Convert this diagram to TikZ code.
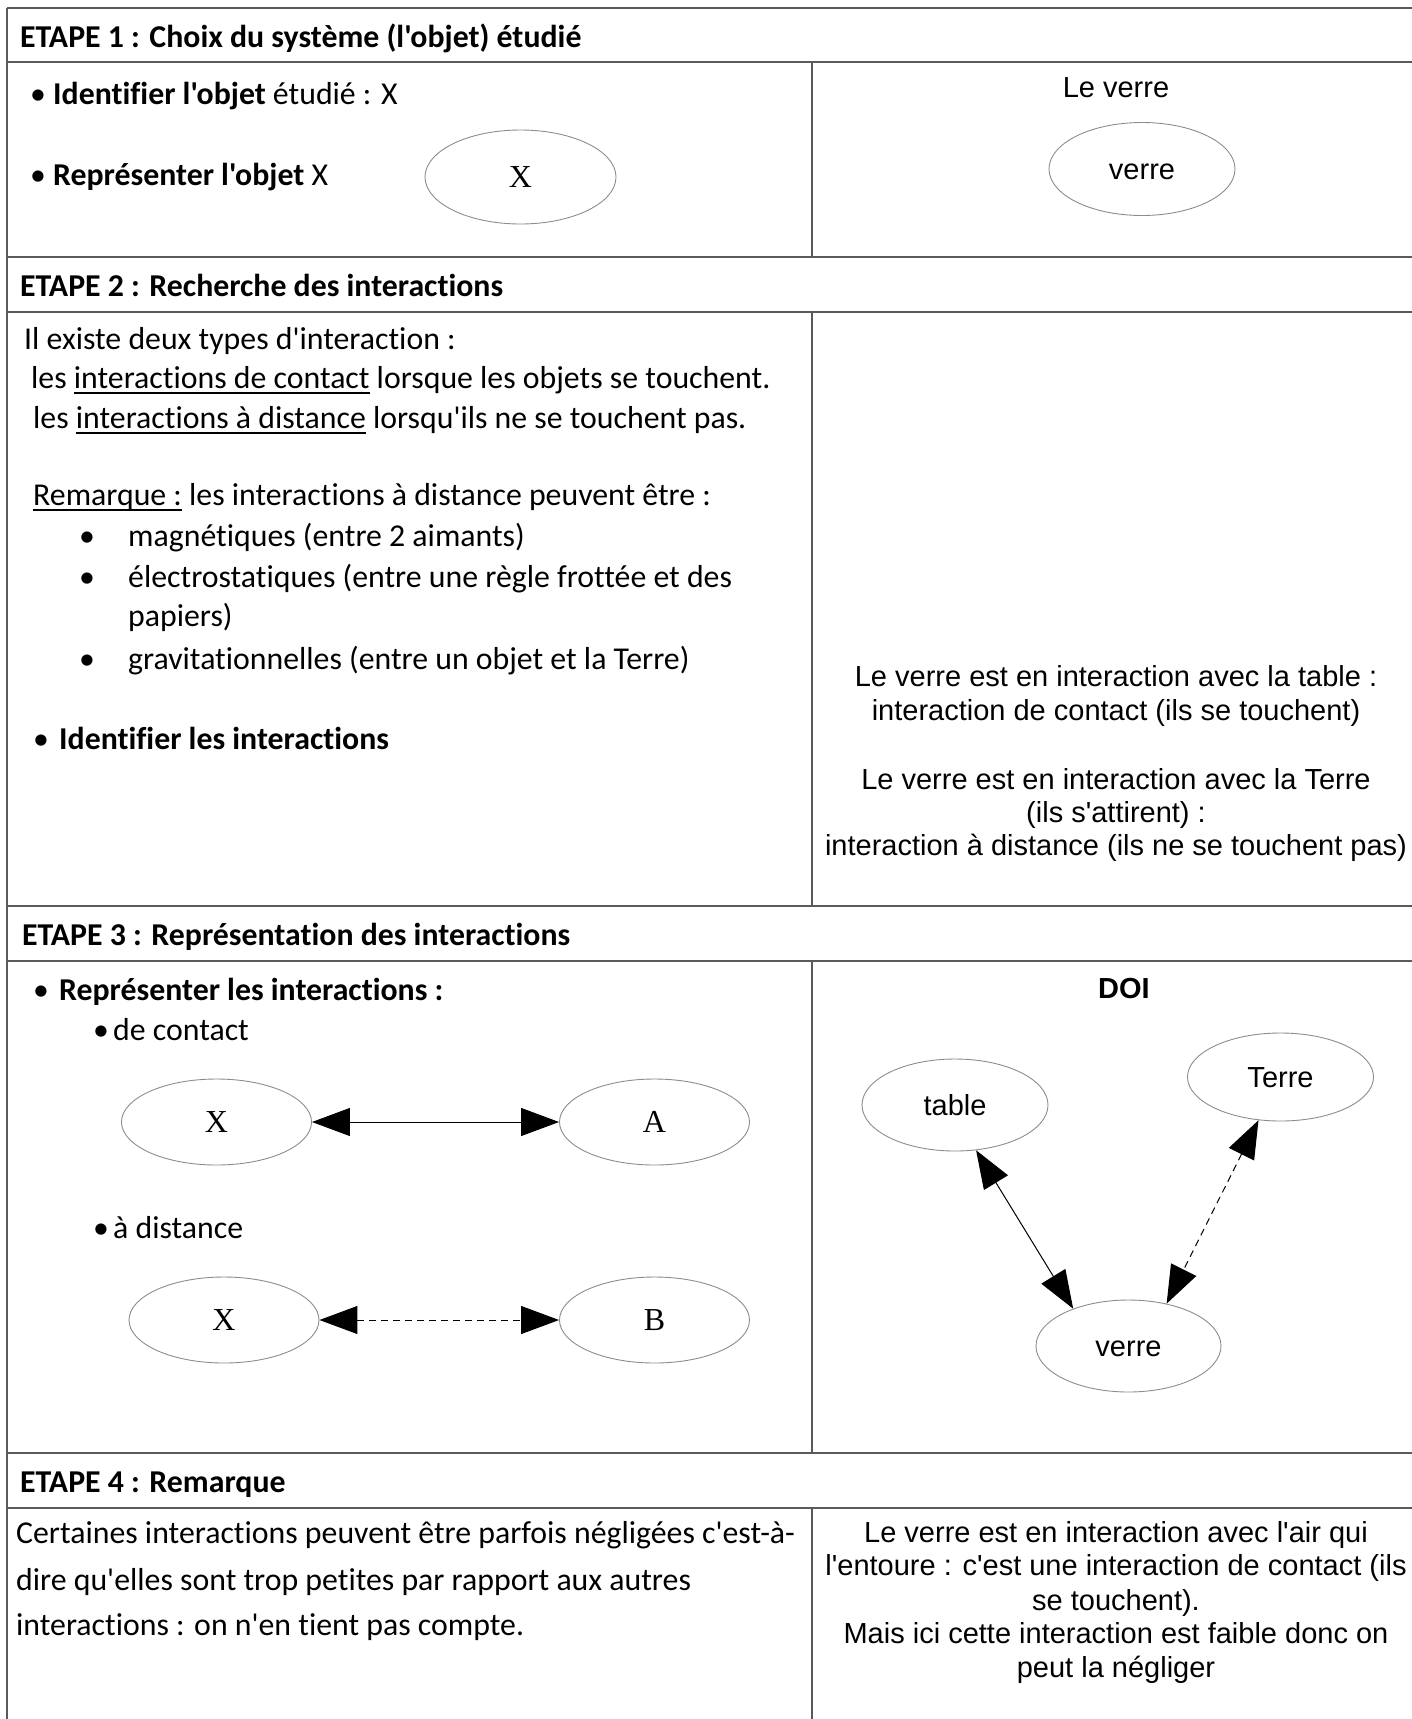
\documentclass[tikz,border=0pt]{standalone}
\usepackage{fontspec}
\setmainfont{Carlito}[Ligatures={TeXOff,NoCommon}]
\newfontfamily\arialf{Liberation Sans}[Ligatures={TeXOff,NoCommon}]
\newfontfamily\timesf{Liberation Serif}[Ligatures={TeXOff,NoCommon}]
\usetikzlibrary{arrows.meta,shapes.geometric}
\definecolor{tline}{HTML}{5A5A5A}
\definecolor{eline}{HTML}{8C8C8C}
\newcommand\ulx[1]{\setbox0=\hbox{#1}\rlap{\rule[-5.5pt]{\wd0}{1.6pt}}\box0\relax}
\begin{document}
\begin{tikzpicture}[x=1pt,y=-1pt,
  txt/.style={inner sep=0pt, anchor=base west, font=\fontsize{31.8}{39}\selectfont},
  hdr/.style={inner sep=0pt, anchor=base west, font=\fontsize{31.8}{39}\selectfont\bfseries},
  bul/.style={inner sep=0pt, anchor=base, font=\fontsize{31.8}{39}\selectfont},
  ar/.style={inner sep=0pt, anchor=base, font=\arialf\fontsize{29}{34}\selectfont},
  ell/.style={ellipse, draw=eline, line width=0.9pt, inner sep=0pt, minimum width=190pt, minimum height=90pt},
  ellT/.style={ell, font=\timesf\fontsize{32}{36}\selectfont},
  ellA/.style={ell, font=\arialf\fontsize{29}{34}\selectfont, text height=21pt, text depth=0pt},
  tl/.style={draw=tline, line width=1.6pt},
  >={Triangle[length=38pt,width=28pt]},
  arr/.style={<->, line width=1pt, black},
  darr/.style={<->, line width=1pt, black, dash pattern=on 7pt off 5pt}]
\useasboundingbox (0,0) rectangle (1412,1719);
% table
\path[tl] (7,8) -- (1412,8);
\path[tl] (7,62) -- (1412,62);
\path[tl] (7,257) -- (1412,257);
\path[tl] (7,312) -- (1412,312);
\path[tl] (7,906) -- (1412,906);
\path[tl] (7,961) -- (1412,961);
\path[tl] (7,1453) -- (1412,1453);
\path[tl] (7,1508) -- (1412,1508);
\path[tl] (7,8) -- (7,1719);
\path[tl] (812,62) -- (812,257);
\path[tl] (812,312) -- (812,906);
\path[tl] (812,961) -- (812,1453);
\path[tl] (812,1508) -- (812,1719);
% headers
\node[hdr] (h1) at (20,47) {ETAPE 1 : Choix du système (l'objet) étudié};
\node[hdr] (h2) at (20,296) {ETAPE 2 : Recherche des interactions};
\node[hdr] (h3) at (22,945) {ETAPE 3 : Représentation des interactions};
\node[hdr] (h4) at (20,1492) {ETAPE 4 : Remarque};
% row 1
\node[bul] (b1) at (38,104) {\textbullet};
\node[txt] (id1) at (53,104) {\textbf{Identifier l'objet} étudié : X};
\node[bul] (b2) at (38,185) {\textbullet};
\node[txt] (rep1) at (53,185) {\textbf{Représenter l'objet} X};
\node[ellT, minimum width=191pt, minimum height=94pt] (x0) at (520.5,177) {X};
\node[ar] (lv) at (1116,97) {Le verre};
\node[ellA, minimum width=186pt, minimum height=93pt] (v0) at (1142,169) {verre};
% row 2
\node[txt] (l1) at (24,349) {Il existe deux types d'interaction :};
\node[txt] (l2) at (31,388) {les \ulx{interactions de contact} lorsque les objets se touchent.};
\node[txt] (l3) at (33,428) {les \ulx{interactions à distance} lorsqu'ils ne se touchent pas.};
\node[txt] (l4) at (33,505) {\ulx{Remarque :} les interactions à distance peuvent être :};
\node[bul] (bb1) at (87,546) {\textbullet};
\node[txt] (i1) at (128,546) {magnétiques (entre 2 aimants)};
\node[bul] (bb2) at (87,587) {\textbullet};
\node[txt] (i2) at (128,587) {électrostatiques (entre une règle frottée et des};
\node[txt] (i2b) at (128,626) {papiers)};
\node[bul] (bb3) at (87,669) {\textbullet};
\node[txt] (i3) at (128,669) {gravitationnelles (entre un objet et la Terre)};
\node[bul] (b3) at (41,749) {\textbullet};
\node[txt] (id2) at (59,749) {\textbf{Identifier les interactions}};
\node[ar] (r1) at (1116,686) {Le verre est en interaction avec la table :};
\node[ar] (r2) at (1116,720) {interaction de contact (ils se touchent)};
\node[ar] (r3) at (1116,789) {Le verre est en interaction avec la Terre};
\node[ar] (r4) at (1116,822) {(ils s'attirent) :};
\node[ar] (r5) at (1116,855) {interaction à distance (ils ne se touchent pas)};
% row 3
\node[bul] (b4) at (41,1000) {\textbullet};
\node[txt] (rep2) at (59,1000) {\textbf{Représenter les interactions :}};
\node[bul] (b5) at (101,1040) {\textbullet};
\node[txt] (dc) at (113,1040) {de contact};
\node[ellT, minimum height=86pt] (xa) at (216.5,1122) {X};
\node[ellT, minimum height=86pt] (a) at (654.5,1122) {A};
\draw[arr] (xa) -- (a);
\node[bul] (b6) at (101,1238) {\textbullet};
\node[txt] (ad) at (113,1238) {à distance};
\node[ellT, minimum height=86pt] (xb) at (224,1320) {X};
\node[ellT, minimum height=86pt] (b) at (654.5,1320) {B};
\draw[darr] (xb) -- (b);
\node[ar, font=\arialf\bfseries\fontsize{29}{34}\selectfont] (doi) at (1124,998) {DOI};
\node[ellA, minimum width=186pt, minimum height=92pt] (table) at (955,1105) {table};
\node[ellA, minimum width=186pt, minimum height=88pt] (terre) at (1280.5,1077) {Terre};
\node[ellA, minimum width=185pt, minimum height=92pt] (verre) at (1128.5,1346) {verre};
\draw[arr] (table.-65.6) -- (verre.146);
\draw[darr] (terre.-117.3) -- (verre.48.8);
% row 4
\node[txt] (c1) at (16,1543) {Certaines interactions peuvent être parfois négligées c'est-à-};
\node[txt] (c2) at (16,1590) {dire qu'elles sont trop petites par rapport aux autres};
\node[txt] (c3) at (16,1635) {interactions : on n'en tient pas compte.};
\node[ar] (s1) at (1116,1542) {Le verre est en interaction avec l'air qui};
\node[ar] (s2) at (1116,1575) {l'entoure : c'est une interaction de contact (ils};
\node[ar] (s3) at (1116,1610) {se touchent).};
\node[ar] (s4) at (1116,1643) {Mais ici cette interaction est faible donc on};
\node[ar] (s5) at (1116,1677) {peut la négliger};
\end{tikzpicture}
\end{document}
